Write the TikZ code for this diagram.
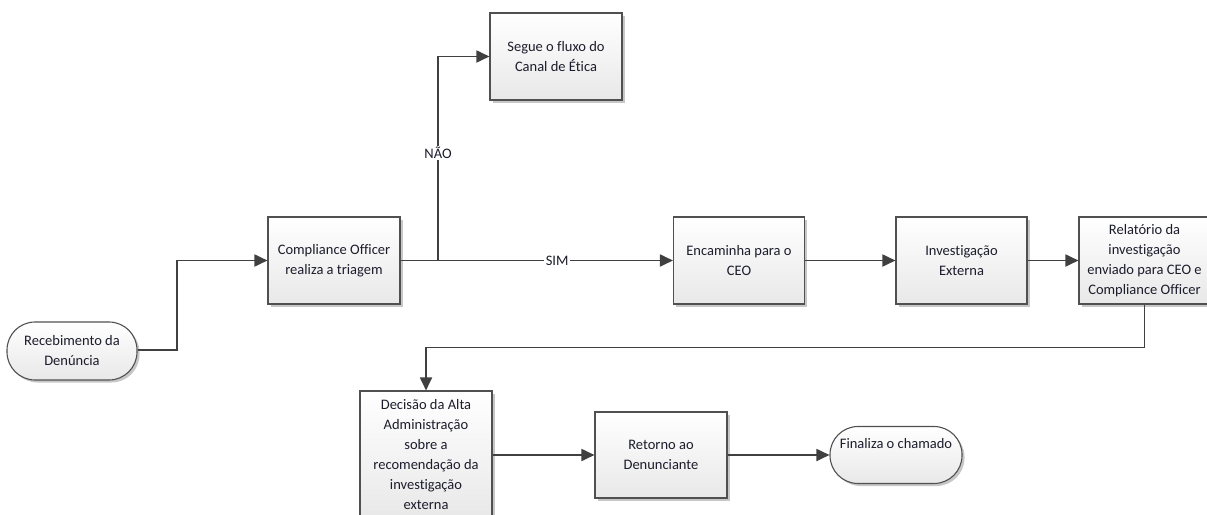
\documentclass[tikz,border=0pt]{standalone}
\usepackage{fontspec}
\setmainfont{Carlito}[Ligatures={NoCommon}]
\usetikzlibrary{arrows.meta,shadows}
\definecolor{lineC}{HTML}{404040}
\definecolor{borderC}{HTML}{505050}
\definecolor{txtC}{HTML}{1C1C2C}
\tikzset{
  boxbase/.style={draw=borderC, line width=1.1pt, top color=white, bottom color=black!9,
    drop shadow={shadow xshift=2.5pt, shadow yshift=-2.5pt, fill=black, opacity=0.22},
    text=txtC, align=center, inner sep=2pt,
    font=\fontsize{14.5}{20}\selectfont},
  procbox/.style={boxbase, rectangle, minimum width=132pt, minimum height=87pt},
  termbox/.style={boxbase, rectangle, rounded corners=28pt, minimum width=131pt, minimum height=57pt},
  conn/.style={draw=lineC, line width=1.8pt, -{Triangle[length=13pt,width=12pt]}},
  plain/.style={draw=lineC, line width=1.8pt},
  lbl/.style={fill=white, text=txtC, inner sep=1.5pt, font=\fontsize{14.5}{20}\selectfont}
}
\begin{document}
\begin{tikzpicture}[x=1pt,y=-1pt]
\path[use as bounding box] (0,0) rectangle (1207,514);
\clip (0,0) rectangle (1207,514);
% nodes
\node[termbox, minimum width=130pt, minimum height=58pt] (rec) at (72,351) {Recebimento da\\Denúncia};
\node[procbox] (co) at (334,260.5) {Compliance Officer\\realiza a triagem};
\node[procbox] (seg) at (556,56.5) {Segue o fluxo do\\Canal de Ética};
\node[procbox, minimum width=131pt] (enc) at (739,260.5) {Encaminha para o\\CEO};
\node[procbox, minimum width=131pt] (inv) at (961.5,260.5) {Investigação\\Externa};
\node[procbox, minimum width=131pt] (rel) at (1144.5,260.5) {Relatório da\\investigação\\enviado para CEO e\\Compliance Officer};
\node[procbox, minimum height=128pt] (dec) at (426,455) {Decisão da Alta\\Administração\\sobre a\\recomendação da\\investigação\\externa};
\node[procbox, minimum height=86pt] (ret) at (661,455) {Retorno ao\\Denunciante};
\node[termbox, minimum width=132pt, text height=10pt, text depth=23pt] (fin) at (896,455) {Finaliza o chamado};
% connectors
\coordinate (j1) at (177,350);
\draw[conn] (rec.east |- j1) -- (j1) |- (co.west);
\coordinate (j2) at (438,260.5);
\draw[conn] (co.east) -- node[lbl, pos=0.575] {SIM} (enc.west);
\draw[conn] (j2) -- node[lbl, pos=0.527] {NÃO} (j2 |- seg.west) -- (seg.west);
\draw[conn] (enc.east) -- (inv.west);
\draw[conn] (inv.east) -- (rel.west);
\draw[conn] (rel.south) -- ++(0,43) -| (dec.north);
\draw[conn] (dec.east) -- (ret.west);
\draw[conn] (ret.east) -- (fin.west);
\end{tikzpicture}
\end{document}
